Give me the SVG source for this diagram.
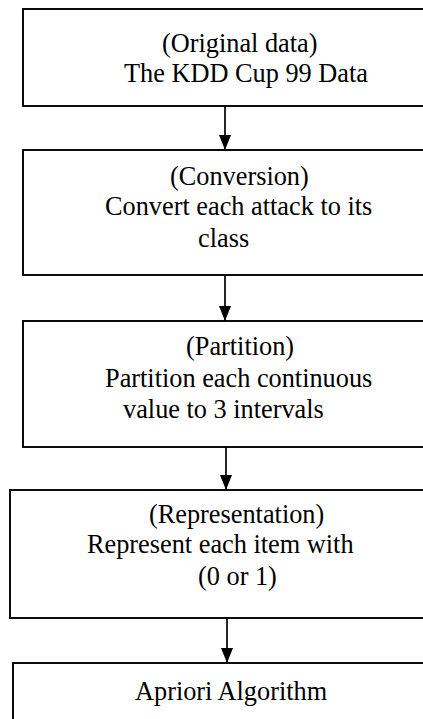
<svg xmlns="http://www.w3.org/2000/svg" width="423" height="719" viewBox="0 0 423 719">
  <style>
    .box { fill: #ffffff; stroke: #000000; stroke-width: 1.9; }
    .lbl { font-family: "Liberation Serif", "Times New Roman", serif; font-size: 26.3px; fill: #000000; }
    .edge { stroke: #000000; stroke-width: 1.7; fill: none; marker-end: url(#head); }
  </style>
  <defs>
    <marker id="head" markerUnits="userSpaceOnUse" markerWidth="15" markerHeight="12" viewBox="0 0 15 12" refX="15" refY="6" orient="auto">
      <path d="M0,0 L15,6 L0,12 z" fill="#000000"/>
    </marker>
  </defs>
  <rect width="423" height="719" fill="#ffffff"/>

  <g id="node-original">
    <rect class="box" x="23" y="9" width="420" height="97"/>
    <text class="lbl" x="162" y="52">(Original data)</text>
    <text class="lbl" x="124" y="82">The KDD Cup 99 Data</text>
  </g>

  <g id="node-conversion">
    <rect class="box" x="23" y="150" width="420" height="125"/>
    <text class="lbl" x="170" y="185">(Conversion)</text>
    <text class="lbl" x="105" y="215">Convert each attack to its</text>
    <text class="lbl" x="198" y="247">class</text>
  </g>

  <g id="node-partition">
    <rect class="box" x="23" y="321" width="420" height="126"/>
    <text class="lbl" x="186" y="355">(Partition)</text>
    <text class="lbl" x="105" y="387">Partition each continuous</text>
    <text class="lbl" x="123" y="418">value to 3 intervals</text>
  </g>

  <g id="node-representation">
    <rect class="box" x="10" y="490" width="433" height="128"/>
    <text class="lbl" x="149" y="523">(Representation)</text>
    <text class="lbl" x="87" y="553">Represent each item with</text>
    <text class="lbl" x="198" y="585">(0 or 1)</text>
  </g>

  <g id="node-apriori">
    <rect class="box" x="13" y="663" width="430" height="80"/>
    <text class="lbl" x="135" y="700">Apriori Algorithm</text>
  </g>

  <g id="connectors">
    <line class="edge" x1="225" y1="106" x2="225" y2="150"/>
    <line class="edge" x1="225" y1="275" x2="225" y2="321"/>
    <line class="edge" x1="226" y1="447" x2="226" y2="490"/>
    <line class="edge" x1="227" y1="618" x2="227" y2="663"/>
  </g>
</svg>
